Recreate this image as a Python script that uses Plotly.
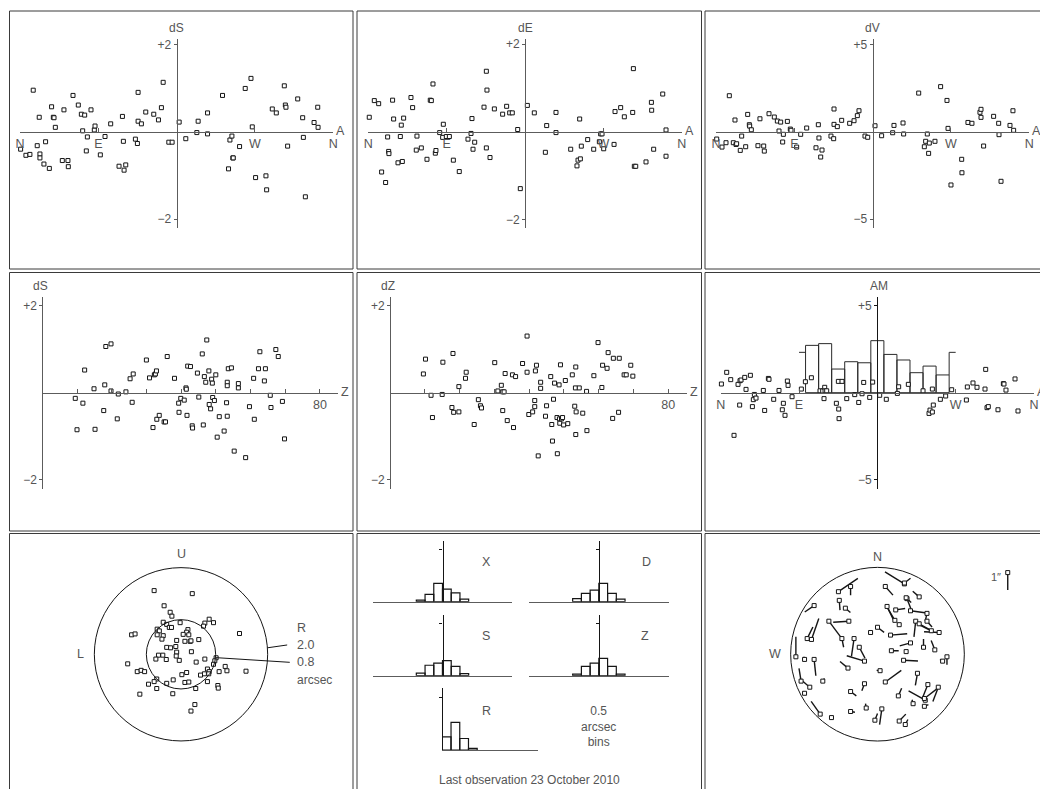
import math
import plotly.graph_objects as go

W, H = 1040, 789
FONT = "Liberation Sans, Arial, sans-serif"
TXT = "#555555"
AX = "#5c5c5c"
INK = "#151515"

# ======================= DATA =======================
compass_vals = [-180, -90, 90, 180]
compass_text = ["N", "E", "W", "N"]

# Row 1: residuals against azimuth (deg)
ds_az = [(-164.8,0.95),(-179.3,-0.40),(-173.2,-0.54),(-168.6,-0.52),(-160.2,-0.32),(-157.9,0.33),(-157.1,-0.51),(-157.1,-0.60),(-152.5,-0.74),(-150.6,-0.23),(-146.3,-0.84),(-143.7,0.57),(-141.7,0.33),(-140.9,0.32),(-139.4,0.10),(-131.4,-0.66),(-129.5,0.50),(-124.9,-0.66),(-124.5,-0.80),(-119.1,0.83),(-113.0,0.61),(-109.5,0.40),(-108.0,0.02),(-105.7,0.38),(-103.8,-0.44),(-102.6,-0.12),(-98.4,0.50),(-94.6,0.04),(-93.8,0.13),(-87.7,-0.53),(-82.3,-0.11),(-75.8,0.18),(-66.2,-0.79),(-62.3,0.35),(-61.2,-0.22),(-60.4,-0.88),(-58.5,-0.76),(-47.4,-0.17),(-45.1,-0.27),(-44.3,0.90),(-44.3,0.24),(-40.5,0.18),(-35.5,0.45),(-26.3,0.40),(-20.9,0.27),(-17.5,0.55),(-15.5,1.13),(-9.0,-0.24),(-5.2,-0.24),(2.9,0.22),(10.5,-0.16),(23.2,-0.02),(24.7,0.24),(35.5,0.43),(35.5,-0.05),(52.7,0.83),(59.6,-0.85),(61.2,-0.19),(63.5,-0.10),(64.6,-0.60),(65.0,-0.60),(72.3,-0.34),(78.8,0.99),(85.4,1.22),(86.9,0.11),(90.7,-1.05),(102.6,-1.01),(103.4,-1.33),(109.9,0.52),(114.5,0.43),(123.7,1.05),(124.9,0.61),(125.6,0.56),(127.5,-0.33),(139.1,0.75),(144.8,0.32),(145.6,-0.13),(147.9,-1.49),(157.9,0.21),(162.1,0.56),(162.5,0.10)]

de_az = [(-178.9,0.33),(-173.1,0.71),(-168.1,0.64),(-164.7,-0.92),(-160.1,-1.16),(-157.8,-0.12),(-156.6,-0.45),(-156.3,-0.50),(-152.1,0.72),(-150.9,0.29),(-145.9,-0.71),(-143.2,-0.11),(-142.1,0.15),(-140.9,-0.68),(-139.4,0.31),(-131.0,0.78),(-129.1,0.55),(-124.9,-0.42),(-124.1,-0.10),(-119.1,-0.37),(-112.6,-0.63),(-108.8,0.72),(-107.6,0.71),(-105.7,1.09),(-103.0,-0.49),(-102.3,-0.43),(-98.0,-0.02),(-94.6,-0.13),(-93.8,0.17),(-90.4,-0.11),(-86.9,-0.11),(-82.3,-0.65),(-75.5,-0.91),(-65.5,-0.17),(-62.0,-0.04),(-60.9,0.30),(-59.7,-0.40),(-57.8,-0.24),(-47.1,0.56),(-44.4,-0.37),(-44.4,1.38),(-43.7,0.95),(-40.2,-0.59),(-35.2,0.52),(-25.7,0.40),(-21.1,0.58),(-17.6,0.43),(-14.6,0.43),(-8.4,0.05),(-5.4,-1.30),(2.7,0.60),(10.7,0.43),(23.4,-0.47),(24.9,0.14),(35.6,0.44),(35.6,-0.02),(52.5,-0.40),(59.7,-0.78),(60.9,-0.65),(63.6,-0.62),(62.8,0.29),(64.7,-0.33),(72.0,-0.18),(78.9,-0.40),(85.4,-0.23),(86.9,-0.05),(88.5,-0.05),(90.4,-0.39),(102.3,-0.29),(103.4,0.46),(109.9,0.55),(114.1,0.34),(123.7,0.44),(124.5,1.44),(125.6,-0.79),(127.2,-0.79),(139.0,-0.69),(145.2,0.67),(145.5,0.49),(147.8,-0.40),(158.2,0.86),(162.0,0.04),(162.0,-0.56)]

dv_az = [(-179.2,-0.42),(-173.1,-0.88),(-168.5,-0.63),(-164.7,2.06),(-160.1,-0.63),(-158.2,0.67),(-157.0,-0.73),(-156.3,-0.69),(-152.1,-1.07),(-150.5,-0.25),(-145.9,-0.86),(-143.6,0.99),(-141.7,0.40),(-141.3,0.32),(-139.4,0.11),(-131.8,-0.80),(-129.5,0.74),(-125.2,-0.82),(-124.5,-1.11),(-119.1,1.03),(-113.0,0.84),(-109.5,0.61),(-107.6,0.04),(-105.7,0.55),(-103.4,-0.59),(-102.6,-0.15),(-98.0,0.59),(-94.6,0.15),(-93.8,0.08),(-87.3,-0.88),(-82.7,-0.15),(-75.8,0.21),(-65.1,-0.92),(-62.4,0.40),(-61.7,-0.36),(-59.7,-1.45),(-58.2,-1.05),(-47.9,-0.25),(-44.8,-0.40),(-44.4,1.30),(-44.4,0.42),(-40.6,0.29),(-35.6,0.65),(-26.4,0.48),(-21.4,0.63),(-17.6,0.92),(-15.7,1.20),(-8.8,-0.25),(-5.7,-0.32),(2.7,0.34),(10.3,-0.23),(23.0,-0.06),(24.5,0.36),(34.9,0.50),(35.6,-0.13),(52.9,2.21),(59.4,-0.86),(60.9,-0.55),(62.8,-0.13),(64.3,-1.24),(65.1,-0.65),(71.6,-0.55),(78.1,2.58),(85.4,1.79),(86.6,0.19),(90.0,-3.05),(102.3,-1.58),(102.6,-2.35),(109.5,0.53),(114.1,0.48),(123.3,1.11),(124.5,1.28),(124.5,0.82),(127.5,-0.82),(139.0,0.88),(144.8,0.48),(145.2,-0.17),(147.5,-2.84),(157.8,0.36),(161.2,1.20),(162.0,0.08)]

# Row 2: residuals against zenith distance (deg), and air-mass panel
ds_zd = [(9.5,-0.13),(10.0,-0.85),(11.7,-0.24),(12.2,0.52),(14.9,0.09),(15.2,-0.84),(17.7,-0.41),(18.0,0.18),(18.3,1.06),(19.8,1.12),(19.8,0.04),(21.6,-0.60),(21.9,-0.03),(24.1,0.02),(25.3,0.32),(25.9,-0.22),(26.2,0.43),(30.0,0.75),(30.9,0.34),(31.9,-0.80),(32.3,0.41),(32.6,0.43),(32.9,0.50),(33.0,-0.61),(33.7,-0.52),(35.1,-0.67),(35.5,-0.67),(36.0,0.83),(38.1,0.33),(39.3,-0.24),(39.4,-0.45),(39.9,-0.13),(40.9,-0.17),(41.4,0.11),(41.5,0.08),(41.7,-0.52),(41.9,0.61),(42.7,0.60),(43.2,-0.76),(43.3,-0.81),(44.7,0.45),(45.1,-0.10),(46.1,0.89),(46.4,-0.74),(46.7,0.37),(47.1,0.24),(47.4,1.21),(48.0,0.50),(48.1,-0.27),(48.5,-0.37),(48.8,0.31),(49.0,0.22),(49.1,-0.11),(49.6,-0.18),(50.0,0.41),(50.4,-1.02),(51.0,-0.55),(52.4,-0.88),(53.1,-0.23),(53.3,-0.54),(53.3,0.24),(53.3,0.16),(53.6,0.55),(54.5,0.57),(55.3,-1.34),(56.5,0.21),(56.5,0.11),(58.6,-1.49),(59.7,-0.32),(60.9,0.33),(61.1,-0.61),(62.3,0.55),(62.7,0.94),(64.0,0.27),(64.3,0.55),(65.7,-0.06),(65.9,-0.34),(67.3,0.99),(68.0,0.83),(69.2,-0.20),(69.8,-1.06)]

dz_zd = [(9.6,0.43),(10.2,0.77),(11.8,-0.06),(12.2,-0.57),(15.0,-0.04),(15.2,0.70),(17.8,-0.34),(18.1,0.90),(18.3,-0.45),(19.8,-0.44),(19.8,0.14),(21.7,0.33),(21.9,0.47),(24.2,-0.73),(25.4,-0.16),(26.0,-0.30),(26.3,-0.35),(30.1,0.69),(31.0,0.04),(32.0,0.17),(32.4,0.02),(32.4,-0.41),(32.8,0.02),(33.1,0.44),(33.7,-0.64),(35.2,0.41),(35.5,-0.80),(36.1,0.37),(38.1,0.67),(39.4,1.30),(39.4,0.47),(39.9,-0.50),(41.0,-0.44),(41.6,-0.18),(41.6,-0.32),(41.8,0.50),(42.1,0.63),(42.6,-1.45),(43.3,0.10),(43.3,0.24),(44.7,-0.54),(45.0,-0.30),(46.2,0.37),(46.5,-0.73),(46.7,-1.11),(47.0,-0.15),(47.3,0.22),(48.0,-0.57),(48.1,-1.40),(48.6,0.18),(48.7,-0.60),(48.8,-0.70),(49.0,0.64),(49.3,-0.60),(49.6,-0.57),(49.9,-0.74),(50.4,0.28),(51.1,-0.71),(52.4,0.41),(53.1,-0.31),(53.3,0.11),(53.4,0.59),(53.5,-0.44),(53.4,-0.96),(54.4,0.11),(55.4,-0.47),(56.5,0.03),(56.6,-0.87),(58.6,0.39),(59.8,1.15),(60.9,0.12),(61.1,0.63),(62.4,0.56),(62.7,0.92),(64.0,-0.59),(64.2,0.79),(65.7,-0.45),(65.9,0.79),(67.3,0.41),(67.9,0.41),(69.2,0.63),(69.8,0.38)]

am_az = [(-179.2,0.50),(-173.1,1.17),(-168.5,0.75),(-164.7,-2.45),(-160.1,0.48),(-158.2,-0.71),(-157.8,0.69),(-156.6,0.73),(-152.4,0.88),(-150.9,0.19),(-145.9,1.00),(-143.6,-0.80),(-142.5,-0.40),(-141.3,-0.10),(-139.4,-0.31),(-131.0,0.13),(-129.5,-1.02),(-125.2,0.82),(-124.5,0.77),(-119.1,-0.38),(-113.0,0.13),(-109.2,-0.98),(-108.0,-0.61),(-106.1,-1.30),(-103.4,0.67),(-102.6,0.42),(-98.0,-0.23),(-87.3,0.21),(-82.7,0.63),(-75.8,0.86),(-65.9,0.11),(-62.8,0.10),(-61.3,-0.34),(-60.5,0.31),(-60.1,0.11),(-58.2,0.11),(-47.1,-0.61),(-44.8,0.65),(-44.4,-0.94),(-44.0,-1.49),(-40.6,0.65),(-35.2,-0.34),(-26.0,-0.11),(-21.4,-0.56),(-17.6,-0.06),(-15.7,0.59),(-8.8,-0.27),(-5.4,0.61),(2.7,-0.15),(10.3,-0.38),(23.0,-0.04),(24.5,0.34),(35.6,0.48),(52.5,0.11),(59.4,-1.19),(60.5,-1.00),(63.2,0.21),(63.2,-1.11),(64.3,-0.71),(72.4,-0.38),(78.5,-0.19),(85.4,0.17),(102.3,-0.42),(103.4,0.33),(109.9,0.56),(114.5,0.31),(123.7,0.21),(124.5,1.34),(126.0,-0.86),(127.5,-0.80),(138.6,-0.98),(144.8,0.52),(145.5,0.50),(147.8,0.15),(158.2,0.79),(161.6,-1.05)]

am_bin_centers = [-75, -60, -45, -30, -15, 0, 15, 30, 45, 60, 75]
am_bin_width = 15
am_bin_heights = [2.72, 2.82, 1.36, 1.78, 1.72, 2.99, 2.20, 1.88, 1.15, 1.53, 1.02]
am_edge_level = 2.32
am_edge_limit = 90

# Row 3, left: offsets (L/R, U) in arcsec
lu_offsets = [(-0.62,1.47),(0.26,1.40),(-0.39,1.12),(-0.25,0.97),(-0.21,0.88),(-0.41,0.74),(-0.33,0.69),(-0.02,0.73),(0.65,0.81),(0.55,0.72),(0.75,0.73),(0.52,0.65),(-0.55,0.58),(-0.50,0.54),(-0.27,0.62),(-0.22,0.62),(0.16,0.57),(0.13,0.51),(0.05,0.46),(0.18,0.45),(-1.14,0.45),(-1.06,0.47),(1.35,0.48),(-0.55,0.45),(-0.41,0.43),(-0.44,0.35),(-0.10,0.32),(0.09,0.30),(0.21,0.30),(0.23,0.31),(0.41,0.34),(-0.33,0.16),(-0.24,0.15),(-0.12,0.18),(0.24,0.06),(-0.10,0.05),(-0.52,-0.02),(-0.42,-0.02),(-0.11,-0.04),(-0.58,-0.11),(-0.34,-0.12),(-0.04,-0.14),(0.35,-0.18),(0.55,-0.11),(0.81,-0.08),(0.78,-0.15),(0.75,-0.23),(-1.23,-0.22),(1.02,-0.28),(0.61,-0.34),(0.54,-0.45),(0.65,-0.40),(0.88,-0.40),(1.06,-0.38),(1.50,-0.39),(-1.01,-0.40),(-0.92,-0.37),(-0.84,-0.40),(0.45,-0.48),(0.64,-0.45),(0.02,-0.47),(0.13,-0.42),(-0.18,-0.59),(-0.56,-0.57),(-0.62,-0.63),(-0.75,-0.69),(-0.33,-0.67),(0.09,-0.65),(0.18,-0.64),(0.61,-0.63),(0.85,-0.72),(0.86,-0.78),(-0.56,-0.79),(0.34,-0.79),(-0.95,-0.92),(-0.19,-0.91),(0.32,-1.16),(0.23,-1.31)]
ring_radii = [2.0, 0.8]
ring_labels = ["2.0", "0.8"]

# Row 3, middle: histograms (percent of observations per 0.5 arcsec bin)
hist_bin = 0.5
hist_x = [3, 14, 35, 24, 17, 5]
hist_d = [6, 16, 22, 35, 16, 5]
hist_s = [5, 20, 24, 29, 18, 4]
hist_z = [3, 18, 24, 33, 18, 3]
hist_r = [25, 53, 22, 3]
hist_ref = 100

# Row 3, right: sky positions (unit circle) and error vectors (arcsec)
sky_vectors = [(0.31,0.81,-1.12,0.69),(0.31,0.82,0.35,0.27),(-0.31,0.78,0.0,-0.50),(-0.45,0.72,1.12,0.77),(0.09,0.78,0.44,-0.50),(0.48,0.66,-0.37,0.33),(-0.44,0.62,0.04,-0.56),(-0.37,0.53,0.29,-0.25),(-0.73,0.56,-0.54,-0.37),(0.11,0.55,0.42,-0.88),(0.21,0.51,0.54,0.08),(0.34,0.64,0.31,-0.81),(0.38,0.50,0.94,-0.13),(0.57,0.47,-0.10,-0.45),(-0.56,0.38,0.75,-1.00),(-0.33,0.38,-0.90,-0.06),(-0.76,0.17,0.42,1.21),(-0.81,0.18,0.33,0.67),(0.20,0.39,-0.40,0.67),(0.25,0.34,-0.10,0.10),(0.44,0.38,-0.10,-0.90),(0.57,0.38,0.29,-0.33),(0.71,0.25,-0.87,0.04),(0.62,0.27,-0.77,0.38),(-0.08,0.25,0.10,0.10),(0.00,0.31,0.38,-0.29),(0.15,0.22,0.96,0.08),(-0.27,0.18,-0.15,-1.02),(-0.15,-0.08,-1.02,0.31),(-0.21,0.08,0.33,-0.63),(-0.41,0.18,0.10,-0.50),(0.38,0.13,-0.62,-0.17),(0.53,0.08,0.0,0.48),(0.66,0.05,-0.21,0.54),(0.16,0.04,0.42,0.0),(0.33,0.03,0.05,0.05),(-0.94,-0.03,0.0,1.15),(-0.84,-0.06,-0.05,0.15),(-0.73,-0.06,0.10,-0.94),(0.30,-0.07,0.83,-0.04),(0.75,-0.08,-0.15,0.10),(0.80,-0.03,0.0,-0.46),(-0.34,-0.16,-0.46,0.38),(0.03,-0.19,-0.20,0.02),(0.09,-0.32,0.92,0.67),(0.46,-0.22,-0.12,-0.69),(-0.88,-0.31,-0.12,0.73),(-0.78,-0.38,-0.52,0.44),(-0.63,-0.31,0.10,0.15),(-0.84,-0.45,-0.10,0.10),(-0.31,-0.43,0.33,-0.25),(-0.15,-0.34,-0.15,-0.40),(0.24,-0.48,0.19,0.44),(0.58,-0.35,-0.29,-0.71),(0.55,-0.53,-0.96,0.54),(0.70,-0.38,-0.31,-0.83),(0.54,-0.51,0.87,0.67),(0.41,-0.57,-0.06,0.23),(0.54,-0.60,0.23,0.10),(-0.66,-0.69,-0.52,0.73),(-0.53,-0.73,-0.10,0.06),(-0.31,-0.66,0.25,-0.04),(-0.13,-0.62,-0.04,0.25),(0.05,-0.63,-0.13,-0.90),(-0.03,-0.76,0.15,0.38),(0.32,-0.81,0.15,0.29),(0.25,-0.77,0.38,0.40),(0.33,0.65,0.29,-0.27),(0.48,0.35,0.73,-0.40)]
sky_radius = 1.0
scale_vector = (1.50, 0.94, 0.0, -1.0)   # the 1" key vector
# ===================================================

ARCSEC_TO_SKY = 0.2

layout = dict(width=W, height=H, margin=dict(l=0, r=0, t=0, b=0),
              paper_bgcolor="white", plot_bgcolor="rgba(0,0,0,0)",
              showlegend=False, font=dict(family=FONT, color=TXT, size=12),
              shapes=[], annotations=[])
traces = []


def span(p_lo, p_hi, p_ref, v_ref, ppu, down=False):
    if down:
        return [v_ref - (p_hi - p_ref) / ppu, v_ref + (p_ref - p_lo) / ppu]
    return [v_ref + (p_lo - p_ref) / ppu, v_ref + (p_hi - p_ref) / ppu]


def sfx(i):
    return "" if i == 1 else str(i)


def set_axes(i, xpx, ypx, xr, yr, xkw=None, ykw=None):
    xd = [xpx[0] / W, xpx[1] / W]
    yd = [1 - ypx[1] / H, 1 - ypx[0] / H]
    x0 = xd[0] + (0 - xr[0]) / (xr[1] - xr[0]) * (xd[1] - xd[0])
    y0 = yd[0] + (0 - yr[0]) / (yr[1] - yr[0]) * (yd[1] - yd[0])
    base = dict(showgrid=False, zeroline=False, automargin=False, fixedrange=True)
    xa = dict(base, domain=xd, range=xr, anchor="free", position=min(max(y0, 0), 1))
    ya = dict(base, domain=yd, range=yr, anchor="free", position=min(max(x0, 0), 1))
    if xkw is None:
        xa["visible"] = False
    else:
        xa.update(xkw)
    if ykw is None:
        ya["visible"] = False
    else:
        ya.update(ykw)
    layout["xaxis" + sfx(i)] = xa
    layout["yaxis" + sfx(i)] = ya


def refs(i):
    return dict(xaxis="x" + sfx(i), yaxis="y" + sfx(i))


def ann(i, text, x, y, size=12, **kw):
    d = dict(text=text, x=x, y=y, xref="x" + sfx(i), yref="y" + sfx(i), showarrow=False,
             font=dict(size=size, color=TXT, family=FONT))
    d.update(kw)
    layout["annotations"].append(d)


SQ = dict(symbol="square", size=4, color="white", line=dict(color=INK, width=1))


def squares(i, pairs):
    traces.append(go.Scatter(x=[p[0] for p in pairs], y=[p[1] for p in pairs], mode="markers",
                             marker=SQ, cliponaxis=False, hoverinfo="skip", **refs(i)))


compass_x = dict(showline=True, linecolor=AX, linewidth=1, ticks="inside", ticklen=4,
                 tickcolor=AX, tickwidth=1, tickvals=compass_vals, ticktext=compass_text,
                 tickfont=dict(size=12.5, color=TXT, family=FONT))


def vert_axis(lim, color=AX, width=1):
    return dict(showline=True, linecolor=color, linewidth=width, ticks="outside", ticklen=3,
                tickcolor=color, tickwidth=1, tickvals=[-lim, lim],
                ticktext=["\u2212" + str(lim), "+" + str(lim)],
                tickfont=dict(size=12, color=TXT, family=FONT))


# ---------- Row 1 ----------
row1 = [
    (1, (20.0, 333.3), 43.7, 2, "dS", ds_az),
    (2, (368.3, 681.7), 43.8, 2, "dE", de_az),
    (3, (716.0, 1029.3), 17.47, 5, "dV", dv_az),
]
for i, xpx, ppu, lim, name, pts in row1:
    yr = span(39.0, 227.7, 131.7, 0, ppu, down=True)
    set_axes(i, xpx, (39.0, 227.7), [-180, 180], yr, compass_x, vert_axis(lim))
    squares(i, pts)
    ann(i, name, 0, yr[1], yanchor="bottom", yshift=2)
    ann(i, "A", 180, 0, size=12.5, xanchor="left", xshift=1, yanchor="middle", yshift=1)

# ---------- Row 2 ----------
z_axis = dict(showline=True, linecolor=AX, linewidth=1, ticks="inside", ticklen=4,
              tickcolor=AX, tickwidth=1, tickvals=[10, 20, 30, 40, 50, 60, 70, 80],
              ticktext=["", "", "", "", "", "", "", "80"],
              tickfont=dict(size=12.5, color=TXT, family=FONT))
row2 = [
    (4, (42.3, 338.3), 3.47, "dS", ds_zd),
    (5, (390.0, 686.7), 3.479, "dZ", dz_zd),
]
for i, xpx, ppx, name, pts in row2:
    xr = span(xpx[0], xpx[1], xpx[0], 0, ppx)
    yr = span(297.3, 489.0, 392.7, 0, 43.58, down=True)
    set_axes(i, xpx, (297.3, 489.0), xr, yr, z_axis, vert_axis(2))
    squares(i, pts)
    ann(i, name, 0, yr[1], yanchor="bottom", yshift=2, xshift=-2)
    ann(i, "Z", xr[1], 0, size=12.5, xanchor="left", xshift=1, yanchor="middle", yshift=1)

# AM panel
yr6 = span(297.3, 489.0, 392.7, 0, 17.4, down=True)
set_axes(6, (720.7, 1034.0), (297.3, 489.0), [-180, 180], yr6, compass_x,
         vert_axis(5, color=INK, width=1.3))
traces.append(go.Bar(x=am_bin_centers, y=am_bin_heights, width=am_bin_width,
                     marker=dict(color="rgba(0,0,0,0)", line=dict(color="#2a2a2a", width=1)),
                     hoverinfo="skip", **refs(6)))
edge_lo = am_bin_centers[0] - am_bin_width / 2
edge_hi = am_bin_centers[-1] + am_bin_width / 2
traces.append(go.Scatter(x=[-am_edge_limit, edge_lo, None, edge_hi, edge_hi, am_edge_limit],
                         y=[am_edge_level, am_edge_level, None, am_bin_heights[-1], am_edge_level, am_edge_level],
                         mode="lines", line=dict(color="#2a2a2a", width=1), hoverinfo="skip", **refs(6)))
squares(6, am_az)
ann(6, "AM", 0, yr6[1], yanchor="bottom", yshift=2, xshift=2)
ann(6, "A", 180, 0, size=12.5, xanchor="left", xshift=1, yanchor="middle", yshift=1)

# ---------- Row 3, left: offsets ----------
xr7 = span(9.5, 353.0, 181.0, 0, 43.33)
yr7 = span(533.5, 789.0, 654.3, 0, 43.33, down=True)
set_axes(7, (9.5, 353.0), (533.5, 789.0), xr7, yr7)
for r in ring_radii:
    layout["shapes"].append(dict(type="circle", xref="x7", yref="y7", x0=-r, x1=r, y0=-r, y1=r,
                                 line=dict(color=INK, width=1)))
squares(7, lu_offsets)
ro = ring_radii[0]
ri = ring_radii[1]
lead_x = [ro * math.cos(math.radians(4.3)), 2.45, None, ri * math.cos(math.radians(-5.5)), 2.51]
lead_y = [ro * math.sin(math.radians(4.3)), 0.215, None, ri * math.sin(math.radians(-5.5)), -0.185]
traces.append(go.Scatter(x=lead_x, y=lead_y, mode="lines", line=dict(color=INK, width=1),
                         hoverinfo="skip", **refs(7)))
ann(7, "U", 0, ro + 0.31, size=12.5, yanchor="middle")
ann(7, "L", -(ro + 0.32), 0, size=12.5, xanchor="center", yanchor="middle")
ann(7, "R", 2.63, 0.61, size=12.5, xanchor="left", yanchor="middle")
ann(7, ring_labels[0], 2.63, 0.215, size=12.5, xanchor="left", yanchor="middle")
ann(7, ring_labels[1], 2.63, -0.185, size=12.5, xanchor="left", yanchor="middle")
ann(7, "arcsec", 2.63, -0.59, size=12, xanchor="left", yanchor="middle")

# ---------- Row 3, right: sky vectors ----------
xr8 = span(705.0, 1040.0, 877.5, 0, 86.83)
yr8 = span(533.5, 789.0, 654.2, 0, 86.83, down=True)
set_axes(8, (705.0, 1040.0), (533.5, 789.0), xr8, yr8)
layout["shapes"].append(dict(type="circle", xref="x8", yref="y8", x0=-sky_radius, x1=sky_radius,
                             y0=-sky_radius, y1=sky_radius, line=dict(color=INK, width=1)))
vx, vy = [], []
for (x, y, dx, dy) in sky_vectors + [scale_vector]:
    vx += [x, x + dx * ARCSEC_TO_SKY, None]
    vy += [y, y + dy * ARCSEC_TO_SKY, None]
traces.append(go.Scatter(x=vx, y=vy, mode="lines", line=dict(color=INK, width=1.4),
                         hoverinfo="skip", cliponaxis=False, **refs(8)))
squares(8, [(v[0], v[1]) for v in sky_vectors + [scale_vector]])
ann(8, "N", 0, 1.124, size=12.5, yanchor="middle")
ann(8, "W", -1.18, 0, size=12.5, yanchor="middle")
ann(8, "1\u2033", 1.37, 0.885, size=11, yanchor="middle")

# ---------- Row 3, middle: histograms ----------
centers6 = [(k + 0.5) * hist_bin for k in range(-3, 3)]
centersR = [(k + 0.5) * hist_bin for k in range(0, 4)]
hx_axis = dict(showline=True, linecolor=AX, linewidth=1, ticks="", showticklabels=False)
hy_axis = dict(showline=True, linecolor=INK, linewidth=1.2, ticks="outside", ticklen=3,
               tickcolor=INK, tickvals=[hist_ref], showticklabels=False)
hists = [
    (9, (372.7, 512.3), (540.7, 601.7), [-4, 4], centers6, hist_x, "X", 2.5),
    (10, (529.0, 668.7), (540.7, 601.7), [-4, 4], centers6, hist_d, "D", 2.74),
    (11, (372.7, 512.3), (615.0, 675.7), [-4, 4], centers6, hist_s, "S", 2.5),
    (12, (529.0, 668.7), (615.0, 675.7), [-4, 4], centers6, hist_z, "Z", 2.66),
    (13, (442.3, 538.3), (688.3, 750.0), [0, 5.5], centersR, hist_r, "R", 2.54),
]
for i, xpx, ypx, xr, cen, vals, name, lx in hists:
    yr = [0, (ypx[1] - ypx[0]) / 0.523]
    set_axes(i, xpx, ypx, xr, yr, hx_axis, hy_axis)
    traces.append(go.Bar(x=cen, y=vals, width=hist_bin,
                         marker=dict(color="rgba(0,0,0,0)", line=dict(color=INK, width=1.2)),
                         hoverinfo="skip", cliponaxis=False, **refs(i)))
    ann(i, name, lx, 75, size=12.5, yanchor="middle")

layout["annotations"].append(dict(text="0.5<br>arcsec<br>bins", x=598.3 / W, y=1 - 726 / H,
                                  xref="paper", yref="paper", showarrow=False, align="center",
                                  xanchor="center", yanchor="middle",
                                  font=dict(size=12, color=TXT, family=FONT)))
layout["annotations"].append(dict(text="Last observation 23 October 2010", x=529 / W, y=1 - 780 / H,
                                  xref="paper", yref="paper", showarrow=False,
                                  xanchor="center", yanchor="middle",
                                  font=dict(size=12, color=TXT, family=FONT)))

# ---------- panel frames ----------
cols = [(9.5, 353.0), (357.0, 701.5), (705.0, 1046.0)]
rows = [(11.0, 269.0), (272.5, 531.0), (533.5, 796.0)]
for (ry0, ry1) in rows:
    for (cx0, cx1) in cols:
        layout["shapes"].append(dict(type="rect", xref="paper", yref="paper",
                                     x0=cx0 / W, x1=cx1 / W, y0=1 - ry1 / H, y1=1 - ry0 / H,
                                     line=dict(color="#3a3a3a", width=1), layer="below"))

fig = go.Figure(data=traces, layout=layout)
fig.write_html("out.html")
